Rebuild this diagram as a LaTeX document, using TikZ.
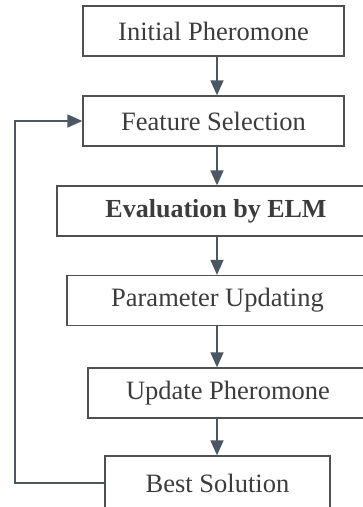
\documentclass[tikz,border=0pt]{standalone}
\usepackage{fontspec}
\setmainfont{Liberation Serif}
\usetikzlibrary{arrows.meta}
\definecolor{linegray}{HTML}{4B5863}
\definecolor{textgray}{HTML}{3C3C3C}
\begin{document}
\begin{tikzpicture}[x=1pt, y=-1pt,
  stage/.style={draw=textgray!90, line width=1.3pt, minimum height=50pt, inner sep=0pt,
    font=\fontsize{26.5}{30}\selectfont, text=textgray},
  flow/.style={draw=linegray, line width=1.5pt, -{Triangle[width=13pt,length=15pt]}}]
  \useasboundingbox (0,0) rectangle (363,507);
  \coordinate (spine) at (217,0);
  \coordinate (back) at (15,0);
  \node[stage, minimum width=261pt] (init) at (213.5,31) {Initial Pheromone};
  \node[stage, minimum width=261pt] (feat) at (213.5,121) {Feature Selection};
  \node[stage, minimum width=318pt, font=\fontsize{26}{30}\selectfont\bfseries] (eval) at (216,211) {Evaluation by ELM};
  \node[stage, minimum width=301pt] (param) at (217.5,300.5) {Parameter Updating};
  \node[stage, minimum width=280pt] (upd) at (228,393) {Update Pheromone};
  \node[stage, minimum width=225pt, minimum height=54pt] (best) at (217.5,483) {Best Solution};
  \draw[flow] (init.south -| spine) -- (feat.north -| spine);
  \draw[flow] (feat.south -| spine) -- (eval.north -| spine);
  \draw[flow] (eval.south -| spine) -- (param.north -| spine);
  \draw[flow] (param.south -| spine) -- (upd.north -| spine);
  \draw[flow] (upd.south -| spine) -- (best.north -| spine);
  \draw[flow] (best.west) -- (best.west -| back) |- (feat.west);
\end{tikzpicture}
\end{document}
